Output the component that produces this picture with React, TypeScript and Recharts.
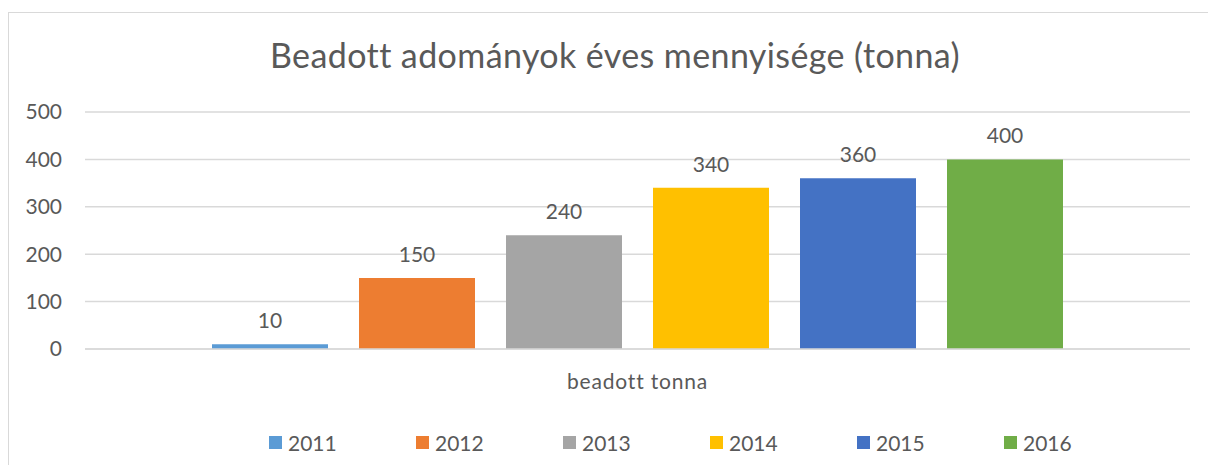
import React from "react";
import { BarChart, Bar, XAxis, YAxis, CartesianGrid, Legend, LabelList } from "recharts";

const categories = ["beadott tonna"];
const years = ["2011", "2012", "2013", "2014", "2015", "2016"];
const values = [10, 150, 240, 340, 360, 400];
const colors = ["#5b9bd5", "#ed7d31", "#a5a5a5", "#ffc000", "#4472c4", "#70ad47"];
const yTicks = [0, 100, 200, 300, 400, 500];

const TEXT = "#595959";
const GRID = "#d9d9d9";
const FONT = "Lato, 'Open Sans', sans-serif";

const data = categories.map((name) => {
  const row: Record<string, string | number> = { name };
  years.forEach((y, i) => {
    row[y] = values[i];
  });
  return row;
});

function LegendRow() {
  return (
    <div style={{ height: 30, display: "flex", alignItems: "center", paddingLeft: 269, fontFamily: FONT, fontSize: 21, color: TEXT }}>
      {years.map((y, i) => (
        <div key={y} style={{ display: "flex", alignItems: "center", width: 147 }}>
          <span style={{ width: 13, height: 13, background: colors[i], marginRight: 6, display: "inline-block" }} />
          <span>{y}</span>
        </div>
      ))}
    </div>
  );
}

export default function App() {
  return (
    <div style={{ position: "absolute", left: 0, top: 0, width: 1208, height: 465, background: "#fff", overflow: "hidden" }}>
      <div style={{ position: "absolute", left: 8, top: 12, width: 1300, height: 600, border: `1.5px solid ${GRID}` }} />
      <div
        style={{
          position: "absolute",
          left: 0,
          top: 35,
          width: 1230,
          textAlign: "center",
          fontFamily: FONT,
          fontSize: 34,
          letterSpacing: 0.4,
          color: TEXT,
          lineHeight: "40px",
        }}
      >
        Beadott adományok éves mennyisége (tonna)
      </div>
      <div style={{ position: "absolute", left: 0, top: 0 }}>
        <BarChart width={1208} height={465} data={data} margin={{ top: 112, right: 18, left: 0, bottom: 8 }} barSize={116} barGap={31}>
          <CartesianGrid vertical={false} stroke={GRID} strokeWidth={1.5} />
          <XAxis
            dataKey="name"
            height={78}
            tickLine={false}
            tickSize={0}
            tickMargin={25}
            axisLine={{ stroke: GRID, strokeWidth: 1.5 }}
            tick={{ fill: TEXT, fontSize: 21, fontFamily: FONT, letterSpacing: 0.8 }}
          />
          <YAxis
            width={85}
            domain={[0, 500]}
            ticks={yTicks}
            tickLine={false}
            axisLine={false}
            tickSize={0}
            tickMargin={23}
            tick={{ fill: TEXT, fontSize: 21, fontFamily: FONT }}
          />
          <Legend verticalAlign="bottom" content={() => <LegendRow />} />
          {years.map((y, i) => (
            <Bar key={y} dataKey={y} fill={colors[i]} isAnimationActive={false}>
              <LabelList dataKey={y} position="top" offset={16} fill={TEXT} fontSize={21} fontFamily={FONT} />
            </Bar>
          ))}
        </BarChart>
      </div>
    </div>
  );
}
